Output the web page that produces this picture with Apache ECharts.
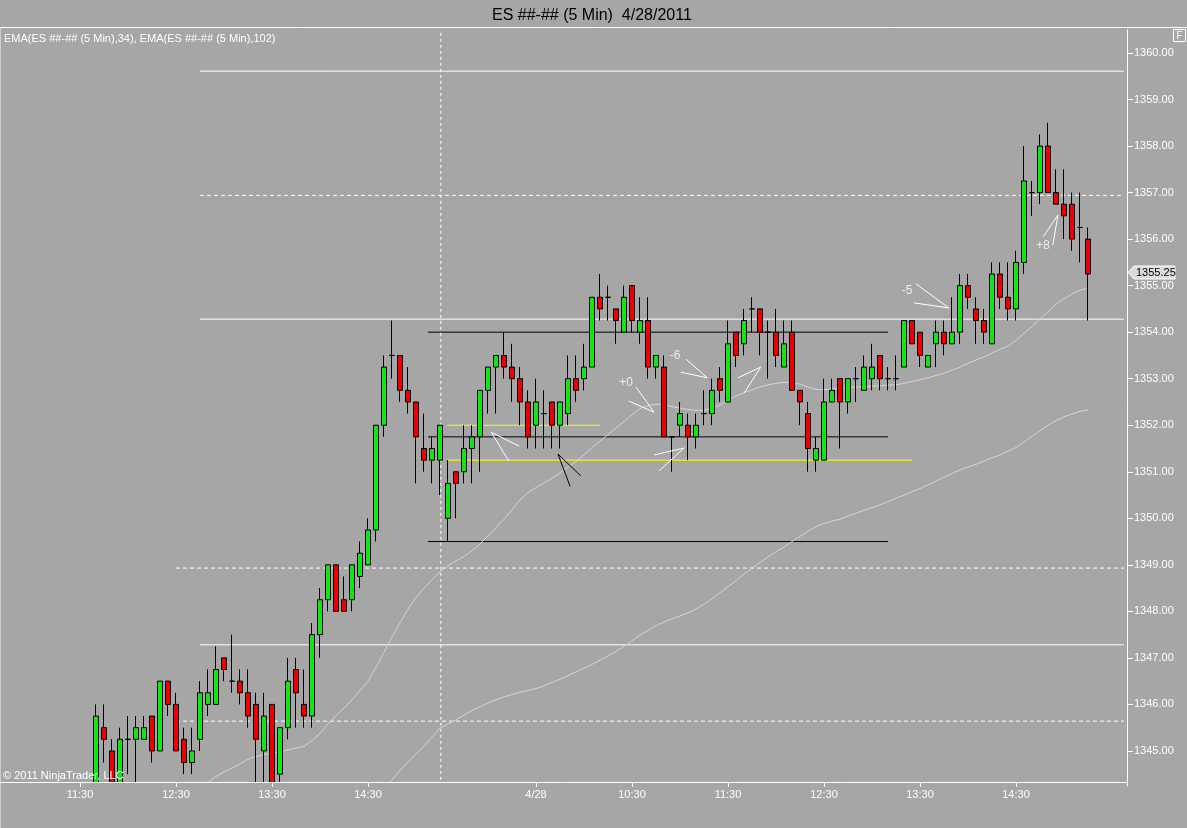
<!DOCTYPE html>
<html>
<head>
<meta charset="utf-8">
<script src="https://cdn.jsdelivr.net/npm/echarts/dist/echarts.min.js"></script>
<style>
html,body{margin:0;padding:0;background:#a6a6a6;}
#chart{width:1187px;height:828px;}
</style>
</head>
<body>
<div id="chart"></div>
<script>
// ---------------- texts ----------------
const chartTitle = 'ES ##-## (5 Min)  4/28/2011';
const emaLegendText = 'EMA(ES ##-## (5 Min),34), EMA(ES ##-## (5 Min),102)';
const copyrightText = '\u00A9 2011 NinjaTrader, LLC';

// ---------------- time axis (5-min bars) ----------------
const sessions = [['4/27', '10:45', '15:15'], ['4/28', '08:35', '15:15']];
const emptyBarsRight = 4;
const xTickTimes  = ['4/27 11:30','4/27 12:30','4/27 13:30','4/27 14:30','4/28 09:30','4/28 10:30','4/28 11:30','4/28 12:30','4/28 13:30','4/28 14:30'];
const xTickLabels = ['11:30','12:30','13:30','14:30','4/28','10:30','11:30','12:30','13:30','14:30'];
// price labels shown on the right axis
const priceLabelMin = 1345, priceLabelMax = 1360, priceLabelStep = 1;

// ---------------- candles [open, close, low, high] (first 11 bars are below the visible range) ----------------
const candles = [
 null,null,null,null,null,null,null,null,null,null,null,
 [1344.0,1345.75,1343.75,1346.0],[1345.5,1345.25,1344.75,1346.0],[1345.0,1344.25,1344.0,1345.25],
 [1344.25,1345.25,1344.0,1345.5],[1345.25,1345.25,1344.5,1345.75],[1345.25,1345.5,1344.25,1345.75],
 [1345.25,1345.5,1345.25,1345.75],[1345.75,1345.0,1344.75,1345.75],[1345.0,1346.5,1345.0,1346.5],
 [1346.5,1346.0,1345.75,1346.5],[1346.0,1345.0,1345.0,1346.25],[1345.25,1344.75,1344.5,1345.5],
 [1344.75,1345.0,1344.5,1345.5],[1345.25,1346.25,1345.0,1346.5],[1346.0,1346.25,1345.75,1346.75],
 [1346.0,1346.75,1346.0,1347.25],[1347.0,1346.75,1346.5,1347.0],[1346.5,1346.5,1346.25,1347.5],
 [1346.5,1346.25,1346.0,1346.75],[1346.25,1345.75,1345.5,1346.75],[1346.0,1345.25,1344.0,1346.25],
 [1345.0,1345.75,1344.25,1346.25],[1346.0,1344.0,1343.75,1346.0],[1344.5,1345.5,1344.25,1345.5],
 [1345.5,1346.5,1345.25,1347.0],[1346.75,1346.25,1345.5,1347.0],[1346.0,1345.75,1345.5,1346.75],
 [1345.75,1347.5,1345.5,1347.75],[1347.5,1348.25,1347.0,1348.5],[1348.25,1349.0,1348.0,1349.0],
 [1349.0,1348.0,1348.0,1349.0],[1348.25,1348.0,1348.0,1348.75],[1348.25,1349.0,1348.0,1349.0],
 [1348.75,1349.25,1348.5,1349.5],[1349.0,1349.75,1349.0,1350.0],[1349.75,1352.0,1349.5,1352.0],
 [1352.0,1353.25,1351.75,1353.5],[1353.5,1353.5,1353.0,1354.25],[1353.5,1352.75,1352.5,1353.5],
 [1352.75,1352.5,1352.25,1353.25],[1352.5,1351.75,1350.75,1352.5],[1351.5,1351.25,1351.0,1352.25],
 [1351.25,1351.5,1350.75,1351.75],[1351.25,1352.0,1350.5,1352.0],
 // 4/28
 [1350.0,1350.75,1349.5,1351.25],[1351.0,1350.75,1350.0,1351.0],[1351.0,1351.5,1350.75,1352.0],
 [1351.5,1351.75,1350.75,1352.0],[1351.75,1352.75,1351.0,1352.75],[1352.75,1353.25,1352.25,1353.25],
 [1353.25,1353.5,1352.25,1353.5],[1353.5,1353.25,1353.0,1354.0],[1353.25,1353.0,1352.5,1353.75],
 [1353.0,1352.5,1352.0,1353.25],[1352.5,1351.75,1351.5,1352.75],[1352.0,1352.5,1351.5,1353.0],
 [1352.25,1352.25,1351.5,1352.75],[1352.5,1352.0,1351.5,1352.5],[1352.0,1352.5,1351.5,1352.5],
 [1352.25,1353.0,1352.0,1353.5],[1353.0,1352.75,1352.5,1353.5],[1353.0,1353.25,1352.75,1353.75],
 [1353.25,1354.75,1353.25,1354.75],[1354.75,1354.5,1354.25,1355.25],[1354.75,1354.75,1354.25,1355.0],
 [1354.5,1354.25,1353.75,1354.5],[1354.0,1354.75,1354.0,1355.0],[1355.0,1354.25,1354.0,1355.0],
 [1354.0,1354.25,1353.75,1354.75],[1354.25,1353.25,1353.0,1354.75],[1353.25,1353.5,1353.0,1353.5],
 [1353.25,1351.75,1351.75,1353.5],[1351.75,1351.75,1351.0,1351.75],[1352.0,1352.25,1351.75,1352.5],
 [1352.0,1351.75,1351.25,1352.25],[1351.75,1352.0,1351.5,1352.25],[1352.25,1352.25,1352.0,1352.75],
 [1352.25,1352.75,1352.0,1353.0],[1353.0,1352.75,1352.5,1353.25],[1352.5,1353.75,1352.5,1354.25],
 [1354.0,1353.5,1353.25,1354.0],[1353.75,1354.25,1353.5,1354.5],[1354.5,1354.5,1354.0,1354.75],
 [1354.5,1354.0,1353.5,1354.5],[1354.0,1354.0,1353.0,1354.25],[1354.0,1353.5,1353.25,1354.5],
 [1353.25,1353.75,1353.25,1354.25],[1354.0,1352.75,1352.75,1354.25],[1352.75,1352.5,1352.0,1352.75],
 [1352.25,1351.5,1351.0,1352.5],[1351.25,1351.5,1351.0,1351.75],[1351.25,1352.5,1351.25,1353.0],
 [1352.5,1352.75,1352.5,1353.0],[1353.0,1352.5,1351.5,1353.0],[1352.5,1353.0,1352.25,1353.0],
 [1353.0,1353.0,1352.5,1353.25],[1352.75,1353.25,1352.75,1353.5],[1353.0,1353.25,1352.75,1353.75],
 [1353.5,1353.0,1352.75,1353.5],[1353.0,1353.0,1352.75,1353.25],[1353.0,1353.0,1352.75,1353.5],
 [1353.25,1354.25,1353.25,1354.25],[1354.25,1353.75,1353.75,1354.25],[1354.0,1353.5,1353.25,1354.0],
 [1353.25,1353.5,1353.25,1353.5],[1353.75,1354.0,1353.25,1354.25],[1354.0,1353.75,1353.5,1354.25],
 [1353.75,1354.0,1353.75,1354.75],[1354.0,1355.0,1353.75,1355.25],[1355.0,1354.75,1354.5,1355.25],
 [1354.5,1354.25,1353.75,1354.75],[1354.25,1354.0,1353.75,1354.5],[1353.75,1355.25,1353.75,1355.5],
 [1355.25,1354.75,1354.5,1355.5],[1354.75,1354.5,1354.25,1355.5],[1354.5,1355.5,1354.25,1355.75],
 [1355.5,1357.25,1355.25,1358.0],[1357.0,1357.0,1356.5,1357.25],[1357.0,1358.0,1356.75,1358.25],
 [1358.0,1357.0,1357.0,1358.5],[1357.0,1356.75,1356.75,1357.5],[1356.75,1356.5,1356.0,1357.5],
 [1356.75,1356.0,1355.75,1357.0],[1356.25,1356.25,1355.5,1357.0],[1356.0,1355.25,1354.25,1356.25]
];

// ---------------- EMA values ----------------
const ema34Start = '4/27 12:45';
const ema34 = [1344.20,1344.32,1344.45,1344.55,1344.63,1344.72,1344.82,1344.88,1344.92,1344.95,1344.98,1345.02,1345.06,1345.10,1345.22,1345.38,1345.58,1345.76,1345.92,1346.10,1346.30,1346.50,1346.80,1347.12,1347.45,1347.75,1348.05,1348.30,1348.50,1348.68,1348.85,
 1348.98,1349.08,1349.18,1349.30,1349.45,1349.62,1349.80,1349.98,1350.18,1350.40,1350.55,1350.66,1350.76,1350.86,1350.98,1351.10,1351.22,1351.36,1351.52,1351.66,1351.80,1351.94,1352.08,1352.22,1352.36,1352.42,1352.45,1352.44,1352.40,1352.37,1352.34,1352.32,1352.32,1352.36,1352.44,1352.54,1352.63,1352.70,1352.76,1352.82,1352.87,1352.90,1352.92,1352.92,1352.88,1352.82,1352.77,1352.76,1352.78,1352.80,1352.81,1352.82,1352.83,1352.84,1352.85,1352.86,1352.87,1352.90,1352.94,1352.98,1353.02,1353.07,1353.12,1353.18,1353.25,1353.33,1353.40,1353.47,1353.55,1353.63,1353.70,1353.82,1353.98,1354.12,1354.28,1354.44,1354.60,1354.72,1354.82,1354.90,1354.95];
const ema102Start = '4/27 14:40';
const ema102 = [1344.20,1344.38,1344.58,1344.76,1344.94,1345.10,1345.30,1345.49,
 1345.58,1345.67,1345.77,1345.87,1345.95,1346.03,1346.10,1346.16,1346.21,1346.26,1346.30,1346.34,1346.40,1346.47,1346.54,1346.62,1346.70,1346.78,1346.86,1346.95,1347.04,1347.14,1347.25,1347.37,1347.49,1347.59,1347.69,1347.77,1347.84,1347.90,1347.97,1348.05,1348.15,1348.27,1348.40,1348.53,1348.66,1348.80,1348.93,1349.05,1349.17,1349.28,1349.38,1349.50,1349.61,1349.72,1349.82,1349.89,1349.94,1349.98,1350.05,1350.11,1350.17,1350.23,1350.29,1350.36,1350.43,1350.50,1350.57,1350.64,1350.72,1350.80,1350.88,1350.96,1351.04,1351.10,1351.16,1351.23,1351.30,1351.36,1351.44,1351.52,1351.64,1351.76,1351.88,1352.00,1352.10,1352.18,1352.24,1352.30,1352.33];

// ---------------- drawn levels ----------------
const solidLevels = [1359.61, 1354.28, 1347.28];
const solidLevelStart = ['4/27 12:45', '4/27 12:45', '4/27 12:45'];
const dashedLevels = [1356.94, 1348.93, 1345.64];
const dashedLevelStart = ['4/27 12:45', '4/27 12:30', '4/27 12:30'];
const blackLevels = [1354.0, 1351.75, 1349.5];
const blackFrom = '4/27 15:10', blackTo = '4/28 13:10';
const yellowLevels = [1352.0, 1351.25];
const yellowFrom = ['4/28 08:35', '4/28 08:35'];
const yellowTo = ['4/28 10:10', '4/28 13:25'];
const sessionBreak = '4/27 15:15';

// arrows: [end, tip, end] in (bar index, price)
const whiteArrows = [
 [[78.5,1352.82],[80.75,1352.28],[77.6,1352.52]],
 [[63.9,1351.55],[60.4,1351.85],[62.6,1351.23]],
 [[84.75,1353.42],[87.4,1353.02],[84.1,1353.14]],
 [[91.25,1353.02],[94.1,1353.25],[92.0,1352.69]],
 [[80.75,1351.36],[84.5,1351.51],[81.4,1351.02]],
 [[113.5,1355.04],[117.6,1354.52],[113.25,1354.63]],
 [[129.4,1356.05],[131.25,1356.52],[130.6,1355.87]]
];
const blackArrows = [
 [[71.6,1350.91],[68.75,1351.38],[70.25,1350.69]]
];
const tradeNotes = [['+0',77.25,1352.91],['-6',83.4,1353.49],['-5',112.4,1354.89],['+8',129.4,1355.85]];

// ---------------- build ----------------
function pad2(n){return (n<10?'0':'')+n;}
function toMin(s){const p=s.split(':');return +p[0]*60+ +p[1];}
const times = [];
sessions.forEach(([d,a,b]) => { for (let m = toMin(a); m <= toMin(b); m += 5) times.push(d + ' ' + pad2(Math.floor(m/60)) + ':' + pad2(m%60)); });
{ const last = sessions[sessions.length-1]; let m = toMin(last[2]); for (let k=0;k<emptyBarsRight;k++){ m+=5; times.push(last[0]+' '+pad2(Math.floor(m/60))+':'+pad2(m%60)); } }
const N = times.length;
const idx = t => times.indexOf(t);

const candleData = [];
candles.forEach((c,i) => { if (c) candleData.push([i, c[0], c[1], c[2], c[3]]); });
function placeSeries(startT, vals){ const arr = new Array(N).fill(null); const s = idx(startT); vals.forEach((v,k)=>{arr[s+k]=v;}); return arr; }
const ema34Data = placeSeries(ema34Start, ema34);
const ema102Data = placeSeries(ema102Start, ema102);
const tickMap = {}; xTickTimes.forEach((t,k)=>{tickMap[t]=xTickLabels[k];});

const BG = '#a6a6a6';
const FONT = '"Liberation Sans", Arial, sans-serif';
const yMin = 1344.25, yMax = 1360.5;
// main plot geometry (pixels)
const G = {left: 4, width: 1120, top: 29.73, height: 756.1};
const pxPerPoint = G.height / (yMax - yMin);

const series = [];
function hLine(from, to, y, color, type){
  series.push({type:'line', xAxisIndex:1, yAxisIndex:0, data:[[from,y],[to,y]], symbol:'none', silent:true, z:1,
    lineStyle:{color:color, width:1, type:type||'solid'}});
}
solidLevels.forEach((v,k)=>hLine(idx(solidLevelStart[k]), N-0.5, v, '#ffffff', 'solid'));
dashedLevels.forEach((v,k)=>hLine(idx(dashedLevelStart[k]), N-0.5, v, '#ffffff', [4,3]));
blackLevels.forEach(v=>hLine(idx(blackFrom)-0.5, idx(blackTo), v, '#000000', 'solid'));
yellowLevels.forEach((v,k)=>hLine(idx(yellowFrom[k])-0.1, idx(yellowTo[k]), v, '#ffff00', 'solid'));
series.push({type:'line', xAxisIndex:1, yAxisIndex:0, data:[[idx(sessionBreak)+0.1,yMin],[idx(sessionBreak)+0.1,yMax]], symbol:'none', silent:true, z:1,
  lineStyle:{color:'#ffffff', width:1, type:[3,3]}});
series.push({type:'line', xAxisIndex:0, yAxisIndex:0, data:ema102Data, symbol:'none', showSymbol:false, connectNulls:false, z:1, silent:true,
  lineStyle:{color:'#d4d4d4', width:1}});
series.push({type:'line', xAxisIndex:0, yAxisIndex:0, data:ema34Data, symbol:'none', showSymbol:false, connectNulls:false, z:1, silent:true,
  lineStyle:{color:'#d4d4d4', width:1}});
series.push({type:'candlestick', xAxisIndex:0, yAxisIndex:0, data:candleData, encode:{x:0, y:[1,2,3,4]}, barWidth:6, z:3, clip:true,
  itemStyle:{color:'#12e612', color0:'#ee0000', borderColor:'#000000', borderColor0:'#000000', borderColorDoji:'#000000', borderWidth:1}});
whiteArrows.forEach(a=>series.push({type:'line', xAxisIndex:1, yAxisIndex:0, data:a, symbol:'none', silent:true, z:4, lineStyle:{color:'#ffffff', width:1}}));
blackArrows.forEach(a=>series.push({type:'line', xAxisIndex:1, yAxisIndex:0, data:a, symbol:'none', silent:true, z:4, lineStyle:{color:'#000000', width:1}}));
series.push({type:'scatter', xAxisIndex:1, yAxisIndex:0, symbolSize:1, z:4, silent:true,
  itemStyle:{color:'rgba(0,0,0,0)'},
  data: tradeNotes.map(n=>({value:[n[1],n[2]], name:n[0]})),
  label:{show:true, position:'inside', formatter:p=>p.name, color:'#ffffff', fontSize:12, fontFamily:FONT}});

// second (label-only) grid aligned with the main price scale, spanning exactly the labelled prices
const labelGrid = {left: G.left, width: G.width,
  top: G.top + (yMax - priceLabelMax) * pxPerPoint,
  height: (priceLabelMax - priceLabelMin) * pxPerPoint};

const option = {
  backgroundColor: BG,
  animation: false,
  textStyle: {fontFamily: FONT},
  title: {text: chartTitle, left: 487, top: 3, textStyle:{color:'#000', fontSize:16, fontWeight:'normal', fontFamily:FONT}},
  grid: [
    Object.assign({outerBoundsMode:'none', containLabel:false}, G),
    Object.assign({outerBoundsMode:'none', containLabel:false}, labelGrid)
  ],
  xAxis: [
    {type:'category', data: times, boundaryGap:true, offset:-3.9, z:60, gridIndex:0,
     axisLine:{show:false, onZero:false},
     axisTick:{show:true, length:5, alignWithLabel:true, interval:(i,v)=>tickMap[v]!==undefined, lineStyle:{color:'#ffffff'}},
     axisLabel:{show:true, interval:(i,v)=>tickMap[v]!==undefined, formatter:(v)=>tickMap[v]||'', color:'#ffffff', fontSize:11, margin:8, fontFamily:FONT},
     splitLine:{show:false}},
    {type:'value', min:-0.5, max:N-0.5, show:false, gridIndex:0, axisLine:{show:false, onZero:false}, splitLine:{show:false}},
    {type:'value', min:0, max:1, show:false, gridIndex:1, axisLine:{show:false, onZero:false}, splitLine:{show:false}}
  ],
  yAxis: [
    {type:'value', gridIndex:0, position:'right', offset:3, min:yMin, max:yMax, scale:true,
     axisLine:{show:true, onZero:false, lineStyle:{color:'#ffffff', width:1}},
     axisTick:{show:false}, splitLine:{show:false}, axisLabel:{show:false}},
    {type:'value', gridIndex:1, position:'right', offset:3, min:priceLabelMin, max:priceLabelMax, interval:priceLabelStep,
     axisLine:{show:false, onZero:false}, splitLine:{show:false},
     axisTick:{show:true, length:6, lineStyle:{color:'#ffffff', width:1}},
     axisLabel:{show:true, margin:7, color:'#ffffff', fontSize:11, fontFamily:FONT, formatter:(v)=>v.toFixed(2)}}
  ],
  series: series
};

const chart = echarts.init(document.getElementById('chart'));
chart.setOption(option);

const lastClose = candles[candles.length-1][1];
const py = chart.convertToPixel({yAxisIndex:0}, lastClose) - 1.5;

const graphics = [
  {id:'cover', type:'rect', z:50, silent:true, shape:{x:2, y:782.5, width:1124, height:46}, style:{fill:BG}},
  {id:'topLine', type:'line', z:60, silent:true, shape:{x1:0,y1:27.5,x2:1187,y2:27.5}, style:{stroke:'#ffffff', lineWidth:1}},
  {id:'leftLine', type:'line', z:60, silent:true, shape:{x1:0.5,y1:27.5,x2:0.5,y2:828}, style:{stroke:'#cfcfcf', lineWidth:1}},
  {id:'botLine', type:'line', z:60, silent:true, shape:{x1:0,y1:782.5,x2:1127,y2:782.5}, style:{stroke:'#ffffff', lineWidth:1}},
  {id:'emaLegend', type:'text', z:60, silent:true, x:4, y:39, style:{text:emaLegendText, fill:'#ffffff', font:'11px '+FONT, verticalAlign:'middle'}},
  {id:'copyright', type:'text', z:60, silent:true, x:3, y:776, style:{text:copyrightText, fill:'#ffffff', font:'11px '+FONT, verticalAlign:'middle'}},
  {id:'fBox', type:'rect', z:60, silent:true, shape:{x:1173.5, y:29.5, width:12, height:12}, style:{fill:'none', stroke:'#ffffff', lineWidth:1}},
  {id:'fText', type:'text', z:60, silent:true, x:1179.5, y:36, style:{text:'F', fill:'#ffffff', font:'10px '+FONT, align:'center', verticalAlign:'middle'}},
  {id:'pm', type:'polygon', z:60, silent:true, shape:{points:[[1128,py],[1134,py-6.5],[1175,py-6.5],[1175,py+6.5],[1134,py+6.5]]}, style:{fill:'#dcdcdc', stroke:'#ffffff', lineWidth:1}},
  {id:'pmText', type:'text', z:61, silent:true, x:1136, y:py, style:{text:lastClose.toFixed(2), fill:'#000000', font:'11px '+FONT, verticalAlign:'middle'}}
];
chart.setOption({graphic: graphics});
</script>
</body>
</html>
